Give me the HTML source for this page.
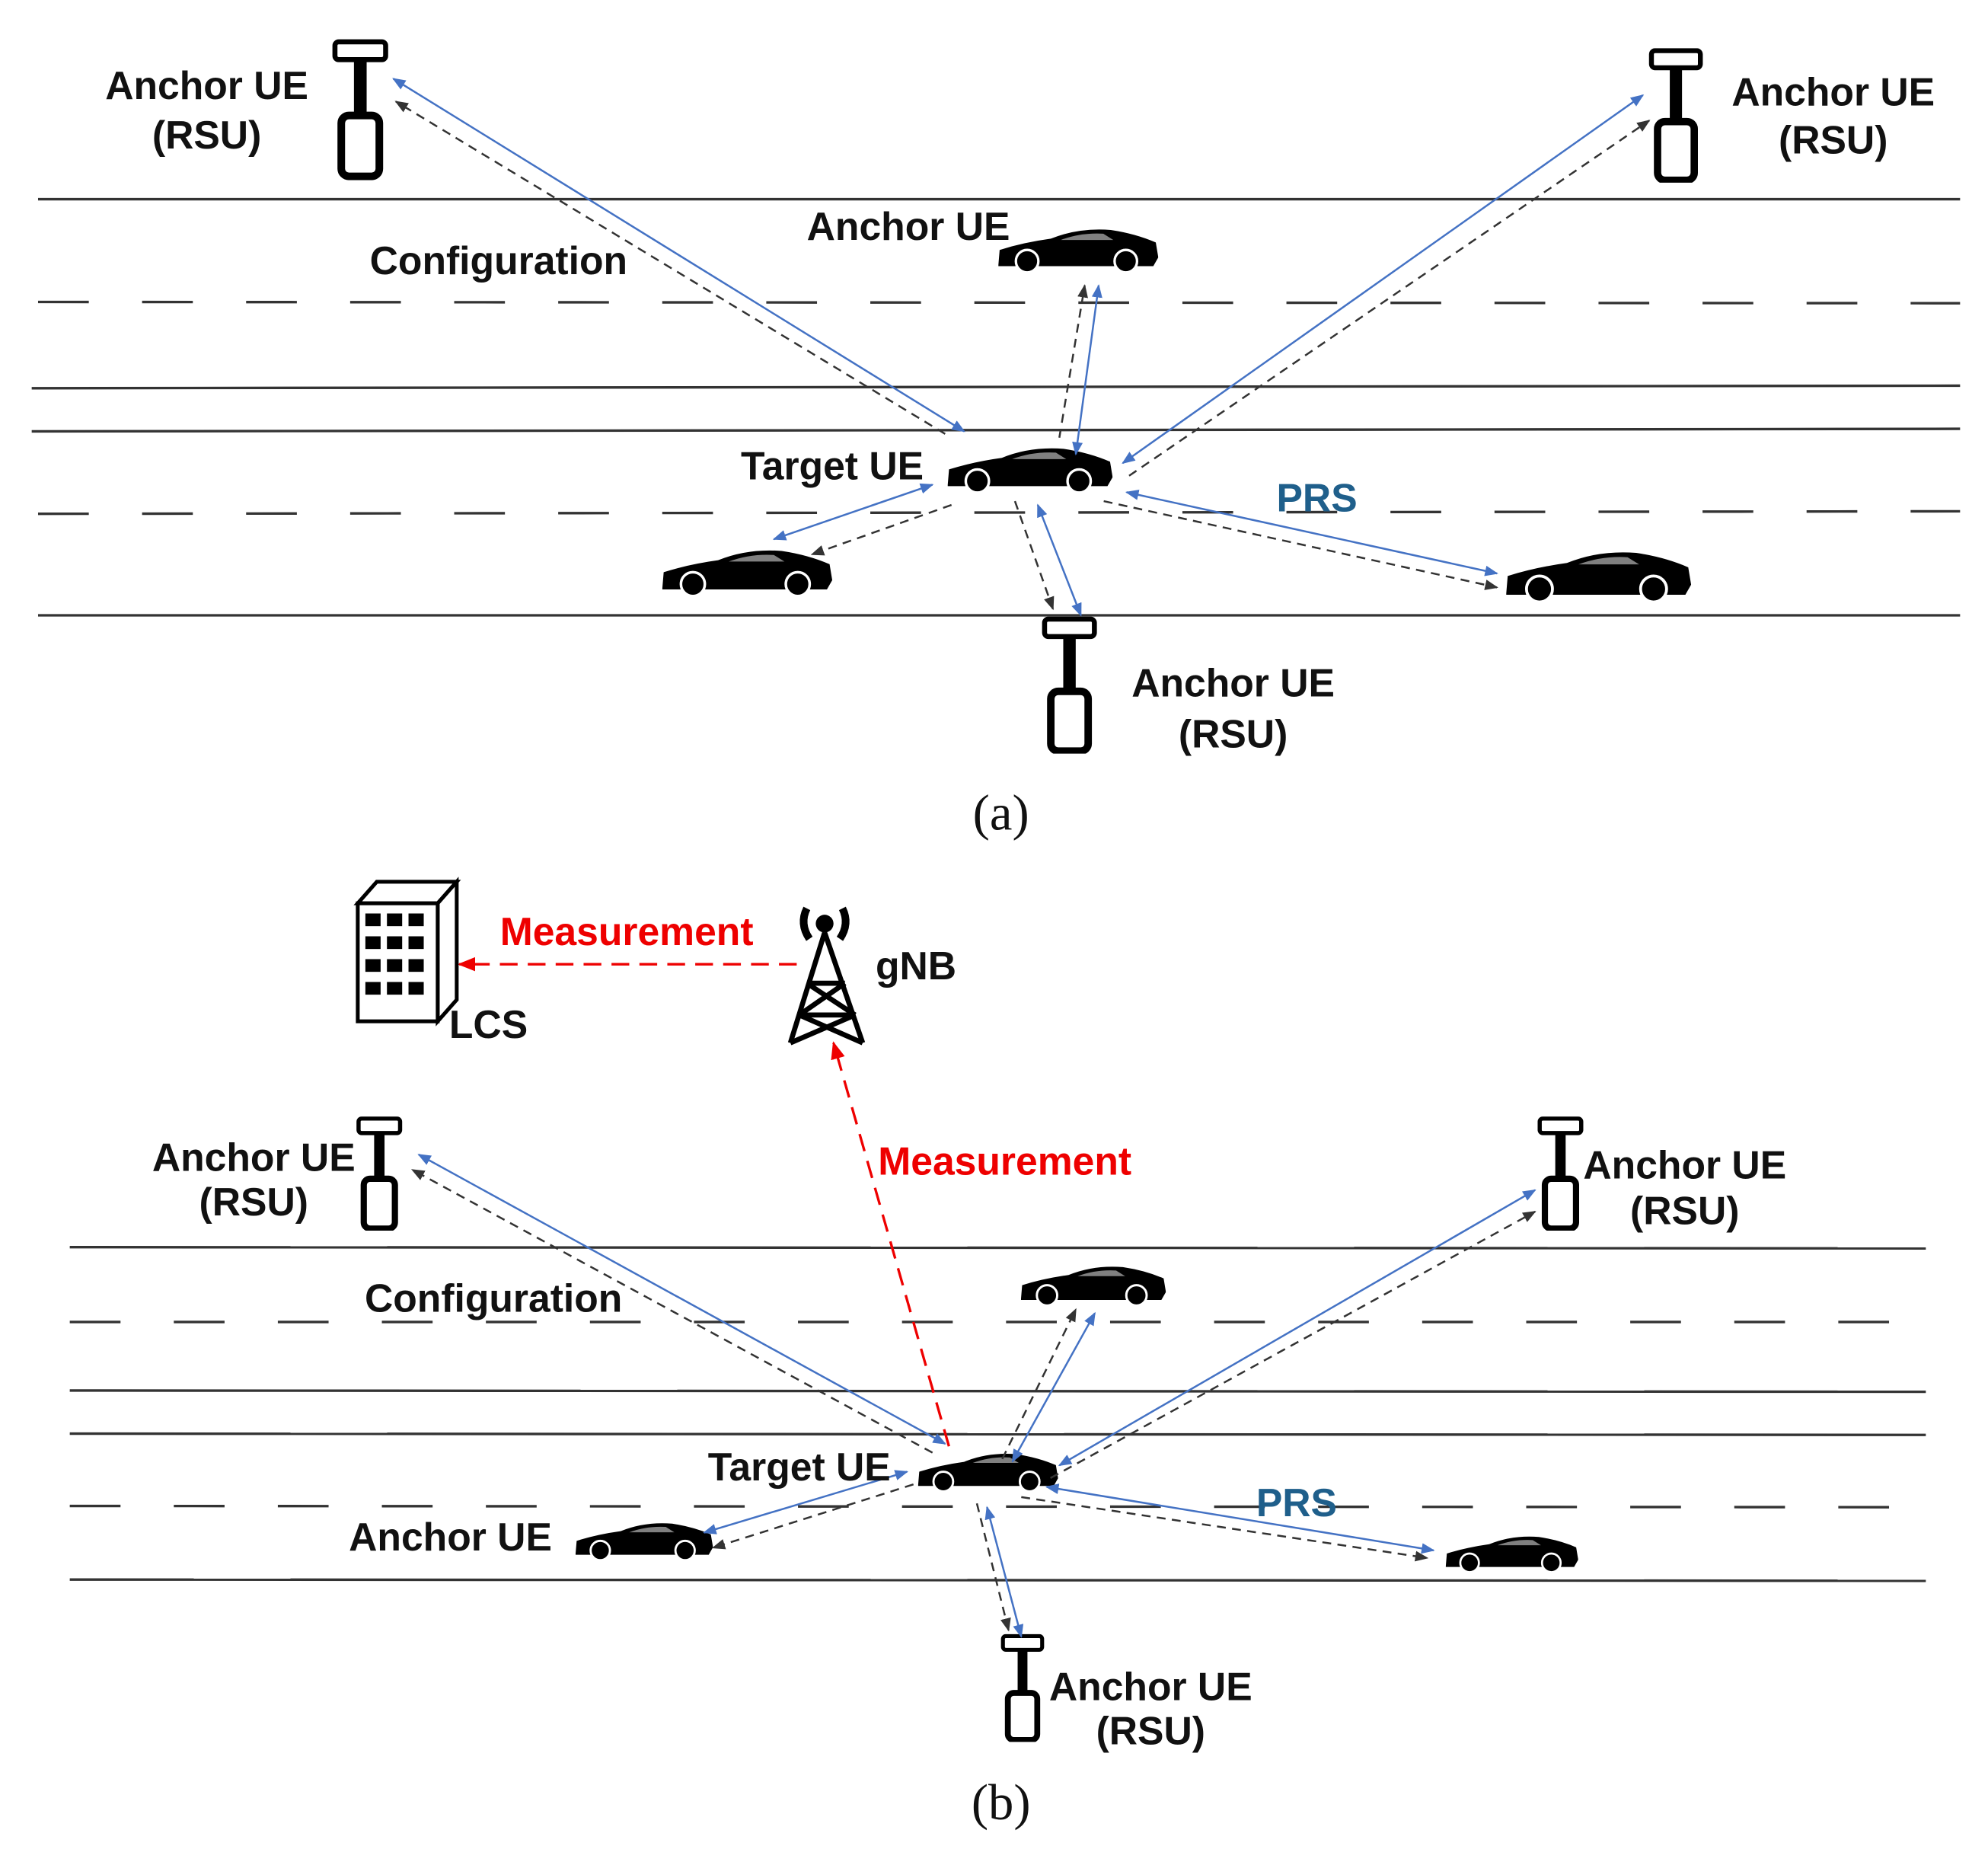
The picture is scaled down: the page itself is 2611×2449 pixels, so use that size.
<!DOCTYPE html>
<html><head><meta charset="utf-8"><style>
html,body{margin:0;padding:0;background:#fff}
svg{display:block}
text{font-family:"Liberation Sans",sans-serif;font-size:31px;font-weight:bold;fill:#111}
</style></head><body>
<svg width="2611" height="2449" viewBox="0 0 1567 1470" preserveAspectRatio="none" xmlns="http://www.w3.org/2000/svg">
<defs>
<marker id="ab" viewBox="0 0 10 10" refX="9" refY="5" markerWidth="7" markerHeight="7" orient="auto-start-reverse"><path d="M0,1 L10,5 L0,9 Z" fill="#4472c4"/></marker>
<marker id="ak" viewBox="0 0 10 10" refX="9" refY="5" markerWidth="7" markerHeight="7" orient="auto"><path d="M0,1 L10,5 L0,9 Z" fill="#333"/></marker>
<marker id="ar" viewBox="0 0 10 10" refX="9" refY="5" markerWidth="7" markerHeight="7" orient="auto"><path d="M0,1 L10,5 L0,9 Z" fill="#e00"/></marker>
<symbol id="car" viewBox="0 0 130 36">
<path d="M2,30 L3,18 Q22,12 44,9 Q66,0 92,2 Q112,5 128,12 L130,24 L126,31 L2,31 Z" fill="#000"/>
<path d="M52,10 Q68,4 86,5 L94,10 Z" fill="#fff" opacity="0.5"/>
<circle cx="25" cy="27" r="9" fill="#000" stroke="#fff" stroke-width="2"/>
<circle cx="104" cy="27" r="9" fill="#000" stroke="#fff" stroke-width="2"/>
</symbol>
<symbol id="rsu" viewBox="0 0 44 110">
<rect x="2" y="2" width="40" height="14" rx="3" fill="#fff" stroke="#000" stroke-width="4"/>
<rect x="17" y="16" width="10" height="44" fill="#000"/>
<rect x="7" y="60" width="30" height="48" rx="6" fill="#fff" stroke="#000" stroke-width="6"/>
</symbol>
</defs>
<g stroke="#333" stroke-width="2" fill="none">
<line x1="30" y1="157" x2="1545" y2="157"/>
<line x1="30" y1="238" x2="1545" y2="239" stroke-dasharray="40,42"/>
<line x1="25" y1="306" x2="1545" y2="304"/>
<line x1="25" y1="340" x2="1545" y2="338"/>
<line x1="30" y1="405" x2="1545" y2="403" stroke-dasharray="40,42"/>
<line x1="30" y1="485" x2="1545" y2="485"/>
<line x1="55" y1="983" x2="1518" y2="984"/>
<line x1="55" y1="1042" x2="1518" y2="1042" stroke-dasharray="40,42"/>
<line x1="55" y1="1096" x2="1518" y2="1097"/>
<line x1="55" y1="1130" x2="1518" y2="1131"/>
<line x1="55" y1="1187" x2="1518" y2="1188" stroke-dasharray="40,42"/>
<line x1="55" y1="1245" x2="1518" y2="1246"/>
</g>
<use href="#rsu" x="262" y="30" width="44" height="112"/>
<use href="#rsu" x="1299" y="38" width="44" height="106"/>
<use href="#rsu" x="821" y="486" width="44" height="108"/>
<use href="#rsu" x="279" y="880" width="40" height="90"/>
<use href="#rsu" x="1210" y="880" width="40" height="90"/>
<use href="#rsu" x="786" y="1288" width="40" height="85"/>
<use href="#car" x="745" y="350" width="132" height="40"/>
<use href="#car" x="785" y="178" width="128" height="38"/>
<use href="#car" x="520" y="430" width="136" height="42"/>
<use href="#car" x="1185" y="432" width="148" height="44"/>
<use href="#car" x="722" y="1143" width="112" height="34"/>
<use href="#car" x="803" y="995" width="116" height="36"/>
<use href="#car" x="452" y="1198" width="110" height="33"/>
<use href="#car" x="1138" y="1208" width="106" height="33"/>
<g stroke="#4472c4" stroke-width="1.5" fill="none" marker-start="url(#ab)" marker-end="url(#ab)">
<line x1="760" y1="340" x2="310" y2="62"/>
<line x1="885" y1="365" x2="1295" y2="75"/>
<line x1="848" y1="358" x2="866" y2="225"/>
<line x1="610" y1="425" x2="735" y2="382"/>
<line x1="888" y1="388" x2="1180" y2="452"/>
<line x1="818" y1="398" x2="852" y2="485"/>
<line x1="745" y1="1138" x2="330" y2="910"/>
<line x1="835" y1="1155" x2="1210" y2="938"/>
<line x1="798" y1="1152" x2="863" y2="1035"/>
<line x1="555" y1="1208" x2="715" y2="1160"/>
<line x1="825" y1="1172" x2="1130" y2="1222"/>
<line x1="778" y1="1188" x2="805" y2="1290"/>
</g>
<g stroke="#333" stroke-width="1.5" fill="none" stroke-dasharray="7,5" marker-end="url(#ak)">
<line x1="745" y1="342" x2="312" y2="80"/>
<line x1="890" y1="375" x2="1300" y2="95"/>
<line x1="835" y1="345" x2="855" y2="225"/>
<line x1="750" y1="398" x2="640" y2="437"/>
<line x1="870" y1="395" x2="1180" y2="463"/>
<line x1="800" y1="395" x2="830" y2="480"/>
<line x1="735" y1="1145" x2="325" y2="922"/>
<line x1="828" y1="1165" x2="1210" y2="955"/>
<line x1="790" y1="1150" x2="848" y2="1032"/>
<line x1="720" y1="1170" x2="562" y2="1220"/>
<line x1="805" y1="1180" x2="1125" y2="1228"/>
<line x1="770" y1="1185" x2="795" y2="1285"/>
</g>
<g stroke="#e00" stroke-width="2" fill="none" stroke-dasharray="14,8" marker-end="url(#ar)">
<line x1="628" y1="760" x2="362" y2="760"/>
<line x1="748" y1="1140" x2="657" y2="822"/>
</g>
<g stroke="#000" stroke-width="3" fill="#fff">
<path d="M282,712 L345,712 L360,695 L297,695 Z"/>
<path d="M345,712 L360,695 L360,788 L345,805 Z"/>
<rect x="282" y="712" width="63" height="93"/>
</g>
<g fill="#000">
<rect x="288" y="720" width="12" height="10"/><rect x="305" y="720" width="12" height="10"/><rect x="322" y="720" width="12" height="10"/>
<rect x="288" y="738" width="12" height="10"/><rect x="305" y="738" width="12" height="10"/><rect x="322" y="738" width="12" height="10"/>
<rect x="288" y="756" width="12" height="10"/><rect x="305" y="756" width="12" height="10"/><rect x="322" y="756" width="12" height="10"/>
<rect x="288" y="774" width="12" height="10"/><rect x="305" y="774" width="12" height="10"/><rect x="322" y="774" width="12" height="10"/>
</g>
<g stroke="#000" stroke-width="4" fill="none">
<path d="M650,735 L623,822 M650,735 L680,822 M636,775 L666,775 M630,800 L674,800 M636,775 L674,800 M666,775 L630,800 M630,800 L680,822 M674,800 L623,822"/>
<path d="M636,716 Q630,728 638,740 M664,716 Q670,728 662,740" stroke-width="6"/>
</g>
<circle cx="650" cy="728" r="7" fill="#000"/>
<g text-anchor="middle">
<text x="163" y="78">Anchor UE</text><text x="163" y="117">(RSU)</text>
<text x="1445" y="83">Anchor UE</text><text x="1445" y="121">(RSU)</text>
<text x="972" y="549">Anchor UE</text><text x="972" y="589">(RSU)</text>
<text x="393" y="216">Configuration</text>
<text x="716" y="189">Anchor UE</text>
<text x="656" y="378">Target UE</text>
<text x="1038" y="403" style="fill:#1f5f8b">PRS</text>
<text x="789" y="654" style="font-family:'Liberation Serif',serif;font-size:40px;font-weight:normal">(a)</text>
<text x="494" y="745" style="fill:#e00">Measurement</text>
<text x="792" y="926" style="fill:#e00">Measurement</text>
<text x="722" y="772">gNB</text>
<text x="385" y="818">LCS</text>
<text x="200" y="923">Anchor UE</text><text x="200" y="958">(RSU)</text>
<text x="1328" y="929">Anchor UE</text><text x="1328" y="965">(RSU)</text>
<text x="907" y="1340">Anchor UE</text><text x="907" y="1375">(RSU)</text>
<text x="389" y="1034">Configuration</text>
<text x="630" y="1167">Target UE</text>
<text x="355" y="1222">Anchor UE</text>
<text x="1022" y="1195" style="fill:#1f5f8b">PRS</text>
<text x="789" y="1434" style="font-family:'Liberation Serif',serif;font-size:40px;font-weight:normal">(b)</text>
</g>
</svg>
</body></html>
